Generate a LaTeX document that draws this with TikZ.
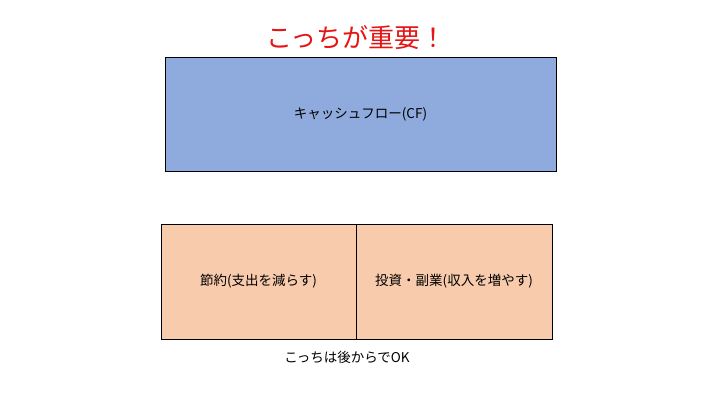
\documentclass[tikz,border=0pt]{standalone}
\usepackage{fontspec}
\setmainfont{Noto Sans CJK JP}
\definecolor{cfblue}{RGB}{143,170,220}
\definecolor{peach}{RGB}{248,203,173}
\definecolor{titlered}{RGB}{230,20,20}
\begin{document}
\begin{tikzpicture}[x=1pt,y=1pt,
  box/.style={draw=black,line width=0.9pt,inner sep=0pt,font=\fontsize{13.5}{15}\selectfont},
  lbl/.style={inner sep=0pt,font=\fontsize{13.5}{15}\selectfont}]
\useasboundingbox (0,0) rectangle (720,-405);
\fill[white] (0,0) rectangle (720,-405);
\node[inner sep=0pt,text=titlered,font=\fontsize{26}{28}\selectfont] (title) at (356.5,-38) {こっちが重要！};
\node[box,fill=cfblue,minimum width=391pt,minimum height=114pt] (cf) at (360.5,-114) {キャッシュフロー(CF)};
\node[box,fill=peach,minimum width=195pt,minimum height=115pt] (save) at (258.5,-281.5) {節約(支出を減らす)};
\node[box,fill=peach,minimum width=196pt,minimum height=115pt] (inv) at (454,-281.5) {投資・副業(収入を増やす)};
\node[lbl] (note) at (347,-357) {こっちは後からでOK};
\end{tikzpicture}
\end{document}
